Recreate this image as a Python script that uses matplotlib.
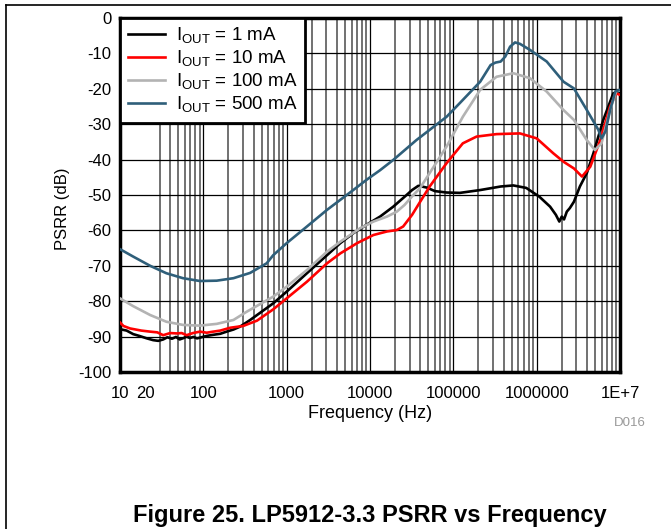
import matplotlib
matplotlib.use("Agg")
import matplotlib.pyplot as plt
from matplotlib.lines import Line2D
from matplotlib.ticker import FixedLocator, FixedFormatter, LogLocator, NullFormatter

plt.rcParams['font.family'] = ['Liberation Sans', 'DejaVu Sans']
plt.rcParams['mathtext.fontset'] = 'custom'
plt.rcParams['mathtext.rm'] = 'Liberation Sans'
plt.rcParams['axes.unicode_minus'] = False

# values (frequency in Hz, PSRR in dB)
f_1ma = [10, 12, 14.4, 17, 21, 25, 28.8, 33, 37, 42, 47, 52, 58, 63, 69, 76, 84, 91, 110, 131, 160, 190, 230, 275,
         365, 690, 1000, 1750, 3050, 4400, 6300, 9100, 13200, 19000, 26000, 32000, 38000, 48000, 60000, 83000,
         120000, 210000, 370000, 525000, 750000, 1.08e6, 1.45e6, 1.7e6, 1.87e6, 2e6, 2.13e6, 2.3e6, 2.5e6, 2.8e6,
         3.3e6, 4e6, 4.8e6, 6.3e6, 8.3e6, 1e7]
psrr_1ma = [-87.9, -88.3, -89.3, -89.8, -90.5, -91.0, -91.2, -90.8, -90.2, -90.6, -90.1, -90.8, -90.4, -90.0,
            -90.4, -90.1, -90.5, -90.3, -89.8, -89.5, -89.2, -88.6, -88.0, -87.2,
            -85.3, -80.6, -77.3, -72.1, -67.0, -63.6, -60.8, -58.4, -56.1, -53.3, -50.5, -48.6, -47.4, -47.9,
            -48.9, -49.3, -49.4, -48.6, -47.6, -47.3, -48.0, -50.5, -53.3, -55.6, -57.5, -56.1, -56.9, -54.7,
            -53.7, -51.9, -47.6, -43.8, -38.2, -28.8, -21.3, -20.6]

f_10ma = [10, 11, 13.2, 18, 23, 28, 33, 40, 48, 55, 63, 75, 91, 110, 131, 160, 210, 300, 440, 690, 1000, 1750,
          3050, 4400, 7000, 11000, 16000, 21000, 25000, 32000, 40000, 52000, 83000, 130000, 190000, 330000,
          630000, 1e6, 1.58e6, 2.1e6, 2.8e6, 3.5e6, 4.4e6, 5.8e6, 7.6e6, 9e6, 1e7]
psrr_10ma = [-86.0, -87.0, -87.7, -88.3, -88.6, -88.8, -89.6, -89.0, -89.1, -89.0, -89.6, -89.0, -88.6, -88.9,
             -88.6, -88.3, -87.5, -87.0, -85.5, -82.3, -79.2, -74.5, -69.3, -66.5, -63.6, -61.3, -60.3, -59.9,
             -58.9, -55.6, -51.9, -47.6, -41.0, -35.4, -33.5, -32.8, -32.6, -34.0, -38.2, -40.6, -42.5, -44.8,
             -42.0, -34.5, -25.0, -21.3, -21.7]

f_100ma = [10, 14.4, 23, 36, 57, 91, 145, 230, 330, 690, 1000, 1750, 3050, 4400, 7600, 11000, 16000, 21000,
           26000, 32000, 40000, 52000, 83000, 130000, 210000, 330000, 525000, 830000, 1.32e6, 2.1e6, 2.8e6, 4e6,
           5e6, 6e6, 7.6e6, 9e6, 1e7]
psrr_100ma = [-79.2, -81.4, -83.9, -85.8, -86.7, -86.9, -86.4, -85.3, -83.0, -78.7, -75.9, -71.2, -66.0, -63.2,
              -59.4, -57.5, -56.1, -54.7, -52.8, -50.4, -48.0, -43.8, -36.3, -27.9, -20.3, -16.6, -15.6, -17.0,
              -20.8, -26.0, -28.8, -34.5, -37.3, -35.4, -26.0, -20.7, -20.5]

f_500ma = [10, 14.4, 23, 36, 57, 91, 145, 230, 365, 575, 690, 1000, 1750, 3050, 6300, 9100, 13200, 19000, 36000,
           83000, 120000, 210000, 280000, 320000, 370000, 420000, 480000, 550000, 630000, 830000, 1.32e6, 2.1e6,
           2.8e6, 4e6, 5.5e6, 6e6, 6.7e6, 7.6e6, 8.8e6, 1e7]
psrr_500ma = [-65.3, -67.4, -70.0, -72.1, -73.5, -74.3, -74.2, -73.5, -72.0, -69.3, -67.0, -63.6, -58.9, -54.2,
              -48.6, -45.7, -43.0, -40.1, -34.5, -27.9, -24.0, -18.0, -13.3, -12.6, -12.3, -10.9, -8.1, -6.9,
              -7.3, -9.0, -12.3, -18.0, -19.9, -26.0, -31.6, -34.0, -32.0, -26.0, -20.7, -20.3]

labels = [r'I$_{\mathrm{OUT}}$ = 1 mA', r'I$_{\mathrm{OUT}}$ = 10 mA',
          r'I$_{\mathrm{OUT}}$ = 100 mA', r'I$_{\mathrm{OUT}}$ = 500 mA']
colors = ['black', '#ff0000', '#b3b3b3', '#2f5f7a']

xtick_vals = [10, 20, 100, 1000, 10000, 100000, 1000000, 10000000]
xtick_text = ['10', '20', '100', '1000', '10000', '100000', '1000000', '1E+7']

fig = plt.figure(figsize=(6.71, 5.29), dpi=100)
ax = fig.add_axes([120/671, 1-372/529, 500/671, 354/529])

series = [(f_1ma, psrr_1ma), (f_10ma, psrr_10ma), (f_100ma, psrr_100ma), (f_500ma, psrr_500ma)]
for (f, p), c, lab in zip(series, colors, labels):
    ax.plot(f, p, color=c, lw=1.9, label=lab, zorder=3)

ax.set_xscale('log')
ax.set_xlim(10, 1e7)
ax.set_ylim(-100, 0)
ax.set_yticks(range(-100, 1, 10))

ax.xaxis.set_major_locator(FixedLocator(xtick_vals))
ax.xaxis.set_major_formatter(FixedFormatter(xtick_text))
ax.xaxis.set_minor_locator(LogLocator(base=10, subs=range(2, 10), numticks=20))
ax.xaxis.set_minor_formatter(NullFormatter())

# grid: decades and dB lines black, minor frequency lines grey
for d in [10, 100, 1000, 10000, 100000, 1000000, 10000000]:
    ax.axvline(d, color='black', lw=0.9, zorder=1)
ax.grid(True, which='minor', axis='x', color='#666666', lw=1.3, zorder=1)
ax.grid(True, which='major', axis='y', color='black', lw=0.9, zorder=1)
ax.tick_params(which='both', length=0, labelsize=12, pad=10)
ax.tick_params(axis='y', pad=6)

for s in ax.spines.values():
    s.set_linewidth(2.5)
    s.set_color('black')

ax.set_xlabel('Frequency (Hz)', fontsize=13, labelpad=3)
ax.set_ylabel('PSRR (dB)', fontsize=12)
ax.yaxis.set_label_coords(-0.1, 0.46)

leg = ax.legend(loc='upper left', fontsize=13.5, fancybox=False, framealpha=1, edgecolor='black',
                borderaxespad=0, handlelength=2.0, labelspacing=0.15, borderpad=0.4, handletextpad=0.6)
leg.get_frame().set_linewidth(2)

fig.text(630/671, 1-423/529, 'D016', color='#999999', fontsize=9.5, ha='center', va='center')
fig.text(370/671, 2/529, 'Figure 25. LP5912-3.3 PSRR vs Frequency', fontsize=17,
         fontweight='bold', ha='center', va='bottom')

# page frame lines (top and left)
fig.add_artist(Line2D([6/671, 1], [1-5/529, 1-5/529], transform=fig.transFigure, color='black', lw=1.2))
fig.add_artist(Line2D([6/671, 6/671], [0, 1-5/529], transform=fig.transFigure, color='black', lw=1.2))

fig.savefig('out.png', dpi=100)
